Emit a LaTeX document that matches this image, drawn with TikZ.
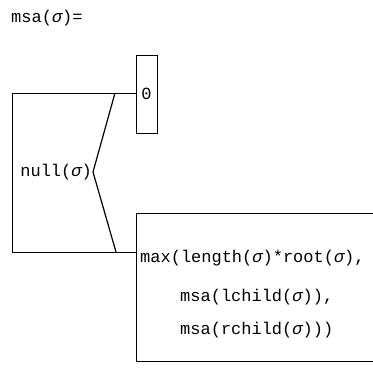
\documentclass[tikz,border=0pt]{standalone}
\usepackage{fontspec}
\setmonofont{Liberation Mono}
\usetikzlibrary{calc}
\newcommand{\sg}{{\itshape σ}}
\tikzset{
  lbl/.style={font=\ttfamily\fontsize{17}{20}\selectfont,inner sep=1pt},
  rahmen/.style={black,line width=0.9pt},
  zweig/.style={black,line width=1.2pt},
  nullbox/.style={draw,line width=0.9pt,minimum width=21pt,minimum height=78pt,inner sep=0pt},
}
\begin{document}
\begin{tikzpicture}[x=1pt,y=-1pt]
  \useasboundingbox (0,0) rectangle (373,371);
  \node[lbl,anchor=west] (titel) at (10,18) {msa(\sg)=};
  % Fall 1: Ergebnis 0
  \node[lbl,nullbox] (null) at (146.5,94) {0};
  % Fall 2: Maximum
  \coordinate (mlo) at (136,213);
  \coordinate (mru) at (373,361);
  \draw[rahmen] (mru|-mlo) -- (mlo) -- (mlo|-mru) -- (mru);
  \node[lbl,anchor=west] (zeile1) at (139,258) {max(length(\sg)*root(\sg),};
  \node[lbl,anchor=west] (zeile2) at (179,297) {msa(lchild(\sg)),};
  \node[lbl,anchor=west] (zeile3) at (179,330) {msa(rchild(\sg)))};
  % Bedingung
  \coordinate (olinks) at (12,93);
  \coordinate (ulinks) at (12,252);
  \coordinate (spitze) at (93,172);
  \draw[rahmen] (null.west|-olinks) -- (olinks) -- (ulinks) -- (ulinks-|mlo);
  \draw[zweig] (115,93) -- (spitze) -- (116,252);
  \node[lbl,anchor=east] (bed) at (spitze) {null(\sg)};
\end{tikzpicture}
\end{document}
